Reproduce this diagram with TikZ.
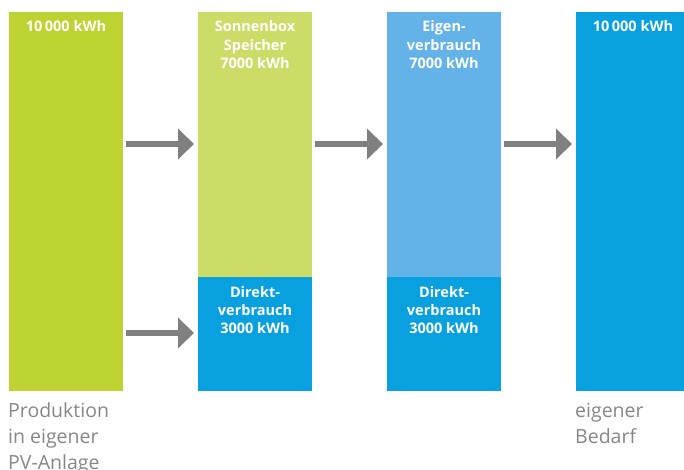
\documentclass[tikz,border=0pt]{standalone}
\usepackage{fontspec}
\setmainfont{Open Sans}
\usetikzlibrary{arrows.meta}
\definecolor{gA}{HTML}{BDD331}
\definecolor{gB}{HTML}{CDDC67}
\definecolor{bA}{HTML}{09A0E0}
\definecolor{bB}{HTML}{63B3E9}
\definecolor{arrgray}{HTML}{808080}
\definecolor{txtgray}{HTML}{878787}
\tikzset{
  bar/.style={rectangle, draw=none, inner sep=0pt, minimum width=114pt, anchor=north west},
  wlabel/.style={text=white, font=\fontsize{14.5pt}{18.3pt}\selectfont\bfseries, align=center, inner sep=0pt, anchor=base},
  glabel/.style={text=txtgray, font=\fontsize{19.5pt}{26pt}\selectfont, align=left, inner sep=0pt, anchor=base west},
  flow/.style={draw=arrgray, line width=5.5pt, -{Triangle[width=30pt,length=16pt]}, shorten <=3pt, shorten >=4pt}
}
\begin{document}
\begin{tikzpicture}[x=1pt,y=1pt]
\useasboundingbox (0,0) rectangle (684,-470);
\clip (0,0) rectangle (684,-470);
% bars
\node[bar, fill=gA, minimum height=379pt] (b1) at (9,-12) {};
\node[bar, fill=gB, minimum height=265pt] (b2t) at (198,-12) {};
\node[bar, fill=bA, minimum height=114pt] (b2b) at (198,-277) {};
\node[bar, fill=bB, minimum height=265pt] (b3t) at (387,-12) {};
\node[bar, fill=bA, minimum height=114pt] (b3b) at (387,-277) {};
\node[bar, fill=bA, minimum height=379pt] (b4) at (576,-12) {};
% labels in bars (anchor=base is the baseline of the last line)
\node[wlabel] (t1) at (66,-32) {10\,000 kWh};
\node[wlabel] (t2) at (255,-68.6) {Sonnenbox\\Speicher\\7000 kWh};
\node[wlabel] (t3) at (255,-333.6) {Direkt-\\verbrauch\\3000 kWh};
\node[wlabel] (t4) at (444,-68.6) {Eigen-\\verbrauch\\7000 kWh};
\node[wlabel] (t5) at (444,-333.6) {Direkt-\\verbrauch\\3000 kWh};
\node[wlabel] (t6) at (633,-32) {10\,000 kWh};
% labels below
\node[glabel] (l1) at (8,-469) {Produktion\\in eigener\\PV-Anlage};
\node[glabel] (l2) at (575,-443) {eigener\\Bedarf};
% arrows
\coordinate (ya) at (0,-144);
\coordinate (yb) at (0,-333);
\draw[flow] (b1.east |- ya) -- (b2t.west |- ya);
\draw[flow] (b1.east |- yb) -- (b2b.west |- yb);
\draw[flow] (b2t.east |- ya) -- (b3t.west |- ya);
\draw[flow] (b3t.east |- ya) -- (b4.west |- ya);
\end{tikzpicture}
\end{document}
